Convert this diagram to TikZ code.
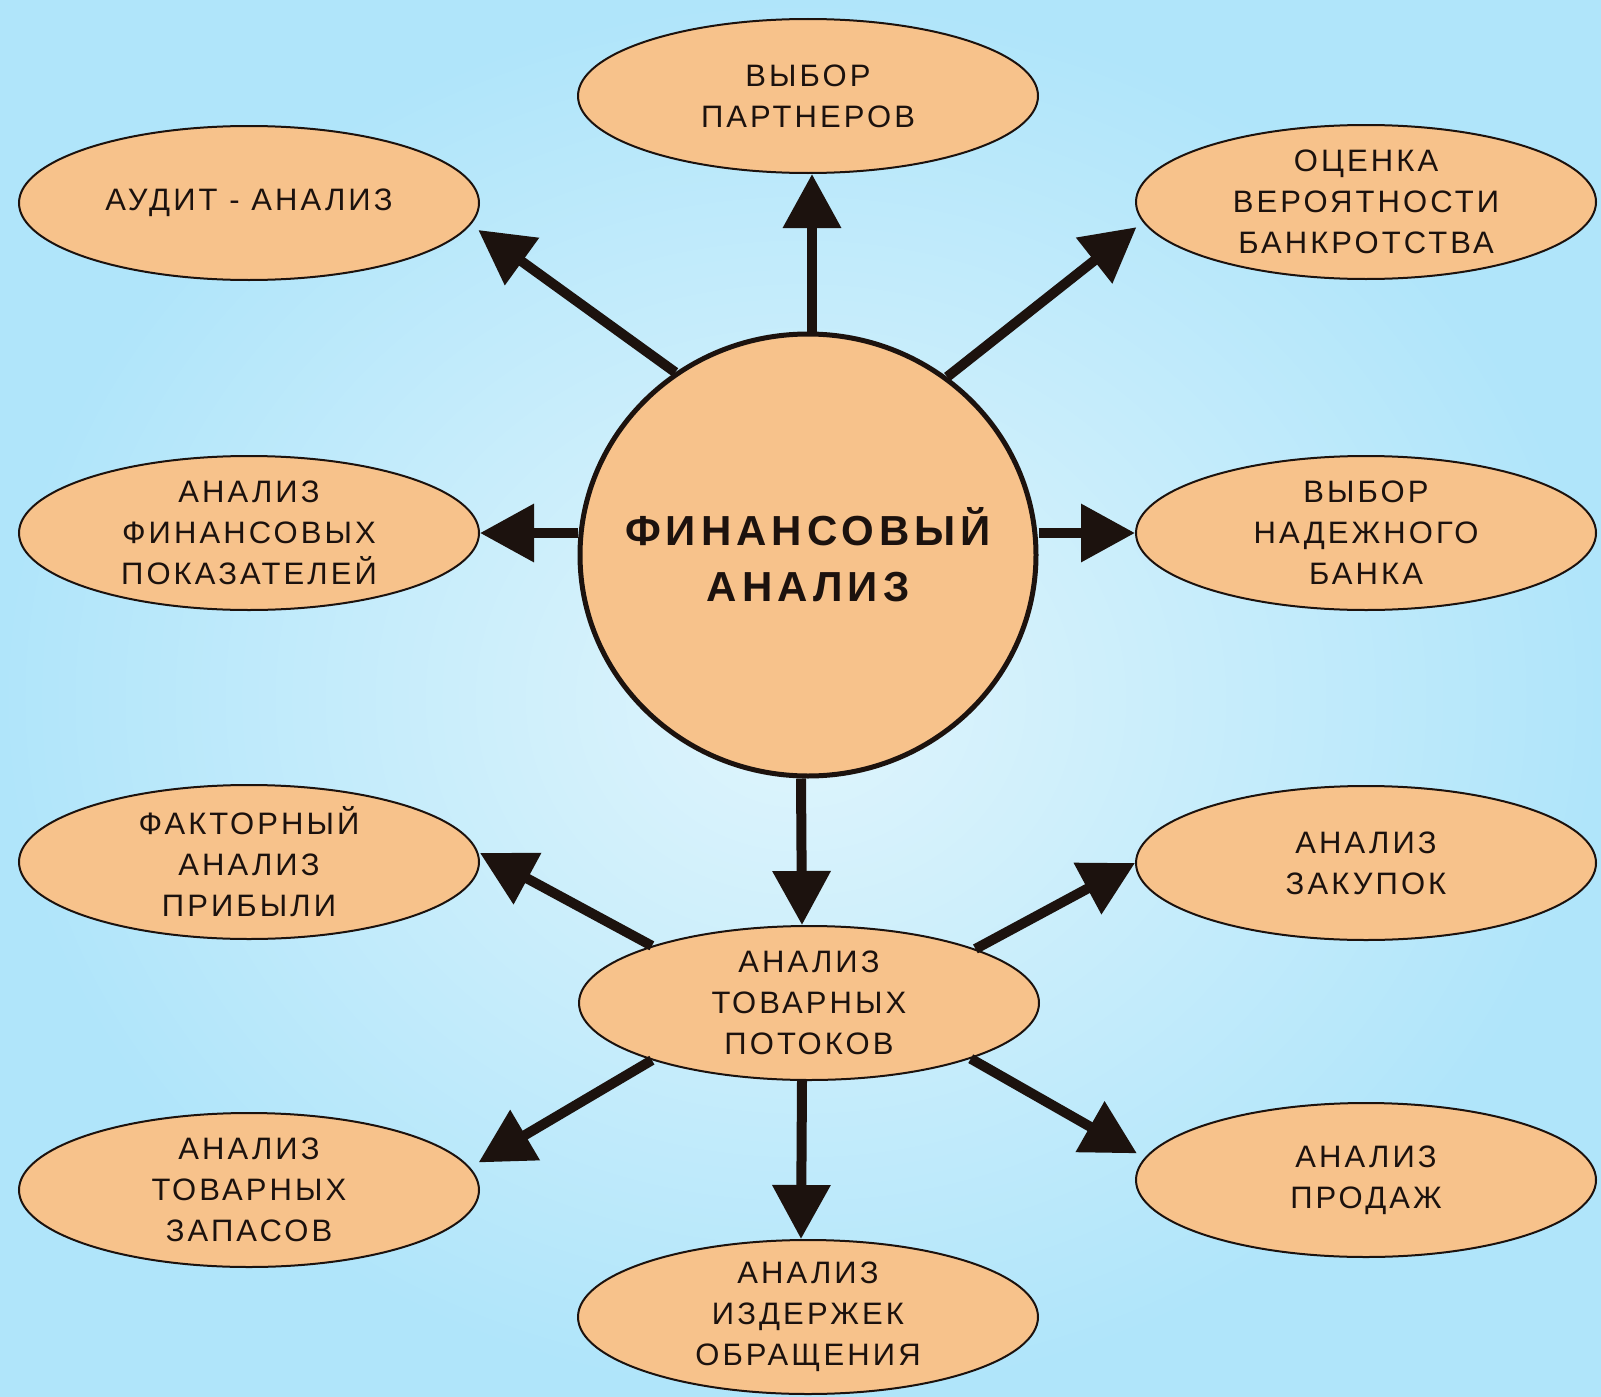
\documentclass[tikz,border=0pt]{standalone}
\usepackage{fontspec}
\setmainfont{Liberation Sans}
\usetikzlibrary{arrows.meta,shapes.geometric,calc}
\definecolor{peach}{RGB}{247,194,139}
\definecolor{bgout}{RGB}{176,229,250}
\definecolor{bgin}{RGB}{224,245,252}
\definecolor{ink}{RGB}{28,18,14}
\begin{document}
\begin{tikzpicture}[x=1pt,y=-1pt,
  oval/.style={ellipse, draw=ink, line width=2pt, fill=peach, minimum width=460pt, minimum height=154pt, inner sep=0pt},
  txt/.style={align=center, inner sep=0pt, text=ink, font=\fontsize{31}{41}\selectfont\addfontfeatures{LetterSpace=10}},
  bigtxt/.style={align=center, inner sep=0pt, text=ink, font=\fontsize{42}{56}\selectfont\bfseries\addfontfeatures{LetterSpace=12}},
  arr/.style={line width=10pt, draw=ink, -{Triangle[length=54pt,width=56pt]}},
]
\shade[inner color=bgin, outer color=bgout] (0,0) rectangle (1601,1397);
\useasboundingbox (0,0) rectangle (1601,1397);

\node[ellipse, draw=ink, line width=5pt, fill=peach, minimum width=456pt, minimum height=442pt, inner sep=0pt] (C) at (808,555) {};
\node[bigtxt] (Ct) at (C) {ФИНАНСОВЫЙ\\АНАЛИЗ};

\node[oval] (partn) at (808,96) {};
\node[txt] (partnt) at (partn) {ВЫБОР\\ПАРТНЕРОВ};
\node[oval] (audit) at (249,203) {};
\node[txt] (auditt) at (audit) {АУДИТ - АНАЛИЗ};
\node[oval] (ocenka) at (1366,202) {};
\node[txt] (ocenkat) at (ocenka) {ОЦЕНКА\\ВЕРОЯТНОСТИ\\БАНКРОТСТВА};
\node[oval] (fin) at (249,533) {};
\node[txt] (fint) at (fin) {АНАЛИЗ\\ФИНАНСОВЫХ\\ПОКАЗАТЕЛЕЙ};
\node[oval] (bank) at (1366,533) {};
\node[txt] (bankt) at (bank) {ВЫБОР\\НАДЕЖНОГО\\БАНКА};
\node[oval] (fakt) at (249,862) {};
\node[txt] (faktt) at (fakt) {ФАКТОРНЫЙ\\АНАЛИЗ\\ПРИБЫЛИ};
\node[oval] (zak) at (1366,863) {};
\node[txt] (zakt) at (zak) {АНАЛИЗ\\ЗАКУПОК};
\node[oval] (potok) at (809,1003) {};
\node[txt] (potokt) at (potok) {АНАЛИЗ\\ТОВАРНЫХ\\ПОТОКОВ};
\node[oval] (zapas) at (249,1190) {};
\node[txt] (zapast) at (zapas) {АНАЛИЗ\\ТОВАРНЫХ\\ЗАПАСОВ};
\node[oval] (izd) at (808,1317) {};
\node[txt] (izdt) at (izd) {АНАЛИЗ\\ИЗДЕРЖЕК\\ОБРАЩЕНИЯ};
\node[oval] (prod) at (1366,1180) {};
\node[txt] (prodt) at (prod) {АНАЛИЗ\\ПРОДАЖ};

\draw[arr] ($(C.north)+(4,0)$) -- ($(partn.south)+(4,0)$);
\draw[arr] (C.126) -- ($(audit.-8)+(16,-3)$);
\draw[arr] (C.52) -- ($(ocenka.186)+(-9,2)$);
\draw[arr] (C.west |- fin.east) -- (fin.east);
\draw[arr] (C.east |- bank.west) -- (bank.west);
\draw[arr] ($(C.south)+(-7,0)$) -- ($(potok.north)+(-7,0)$);
\draw[arr] (potok.160) -- ($(fakt.east)+(0,-9)$);
\draw[arr] (potok.18) -- (zak.west);
\draw[arr] (potok.200) -- ($(zapas.5)+(6,-8)$);
\draw[arr] ($(potok.south)+(-7,0)$) -- ($(izd.north)+(-7,0)$);
\draw[arr] (potok.-19) -- ($(prod.173)+(-12,0)$);
\end{tikzpicture}
\end{document}
